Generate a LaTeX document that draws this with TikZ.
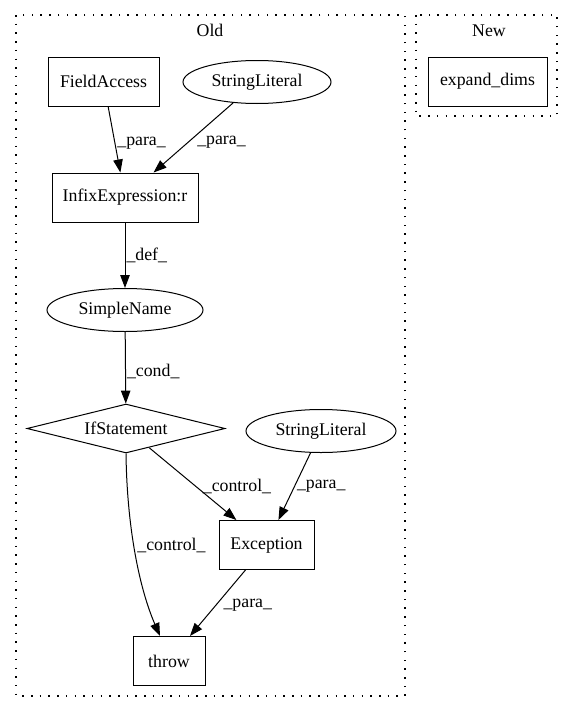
\documentclass[tikz,border=0pt]{standalone}
\usepackage{fontspec}
\setmainfont{Liberation Serif}
\usetikzlibrary{arrows.meta, shapes.geometric, positioning}

\begin{document}
\begin{tikzpicture}[x=1pt, y=-1pt, >={Triangle[length=13pt, width=9.5pt]},
    every node/.style={font=\fontsize{17.8}{20}\selectfont},
    box/.style={draw, line width=1pt, minimum height=49pt, inner sep=0pt},
    oval/.style={draw, ellipse, line width=1pt, minimum height=43pt, inner sep=0pt},
    cond/.style={draw, diamond, shape aspect=4.04, line width=1pt, inner sep=0pt, minimum width=198pt, minimum height=49pt},
    lbl/.style={inner sep=0pt},
    flow/.style={->, line width=1pt},
    cluster/.style={line width=1.5pt, dash pattern=on 1.5pt off 7.2pt}]

    \useasboundingbox (0,0) rectangle (575,712);

    % Clusters
    \draw[cluster] (16,15) rectangle (405,696);
    \node (old) at (210,30) {Old};
    \draw[cluster] (416,15) rectangle (557,116);
    \node (new) at (489,31) {New};

    % Nodes
    \node[box, minimum width=111pt] (fieldacc) at (103.5,81.5) {FieldAccess};
    \node[oval, minimum width=148pt] (strlit) at (257,82) {StringLiteral};
    \node[box, minimum width=146pt] (infix) at (125,197.5) {InfixExpression:r};
    \node[oval, minimum width=156pt] (simplename) at (125,310) {SimpleName};
    \node[cond] (ifstmt) at (126,428.5) {IfStatement};
    \node[oval, minimum width=150pt] (strlit2) at (321,431) {StringLiteral};
    \node[box, minimum width=95pt] (exception) at (266.5,545) {Exception};
    \node[box, minimum width=72pt] (throw) at (169,661) {throw};
    \node[box, minimum width=119pt] (expand) at (487.5,81.5) {expand\_dims};

    % Arrows and edge labels
    \draw[flow] (fieldacc) -- node[lbl, pos=0.55, right=2pt] {\_para\_} (infix);
    \draw[flow] (strlit) -- node[lbl, pos=0.57, right=9pt] {\_para\_} (infix);
    \draw[flow] (infix) -- node[lbl, right=1pt] {\_def\_} (simplename);
    \draw[flow] (simplename) -- node[lbl, pos=0.55, right=1pt] {\_cond\_} (ifstmt);
    \draw[flow] (ifstmt) -- node[lbl, pos=0.53, right=7pt] {\_control\_} (exception);
    \draw[flow] (strlit2) -- node[lbl, pos=0.5, right=2pt] {\_para\_} (exception);
    \draw[flow] (ifstmt.south) .. controls (127,530) and (140,590) .. ([xshift=-9pt]throw.north)
        node[lbl, pos=0.44, right=3pt] {\_control\_};
    \draw[flow] (exception) -- node[lbl, pos=0.53, right=7pt] {\_para\_} (throw);

\end{tikzpicture}
\end{document}
